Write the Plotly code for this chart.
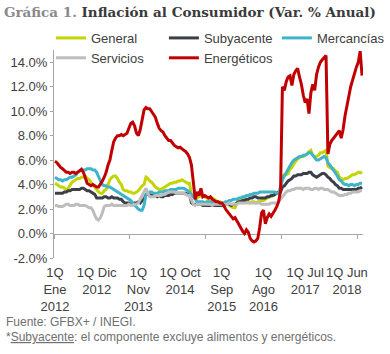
import plotly.graph_objects as go

# ---------------- data ----------------
months = ["Ene", "Feb", "Mar", "Abr", "May", "Jun", "Jul", "Ago", "Sep", "Oct", "Nov", "Dic"]
categories = []
for yr in range(2012, 2019):
    for m in months:
        for q in ("1Q", "2Q"):
            categories.append(f"{q} {m} {yr}")
categories = categories[:163]

general = [
    4.1, 4.0, 3.9, 3.8, 3.8, 3.7, 3.6, 3.7, 3.9, 4.2, 4.3, 4.4, 4.5, 4.5, 4.6, 4.6, 4.7, 4.5, 4.4, 4.2, 4.0, 3.8, 3.6, 3.4,
    3.3, 3.3, 3.5, 3.6, 4.0, 4.4, 4.6, 4.7, 4.7, 4.5, 4.2, 4.0, 3.6, 3.5, 3.5, 3.4, 3.4, 3.3, 3.3, 3.4, 3.5, 3.7, 3.9, 4.0,
    4.6, 4.5, 4.3, 4.2, 4.0, 3.8, 3.7, 3.6, 3.6, 3.7, 3.8, 3.9, 4.0, 4.1, 4.1, 4.2, 4.2, 4.3, 4.3, 4.4, 4.3, 4.2, 4.1, 4.1,
    3.1, 3.0, 3.0, 2.9, 3.0, 3.1, 3.1, 3.0, 2.9, 2.8, 2.9, 2.9, 2.8, 2.7, 2.6, 2.6, 2.5, 2.5, 2.5, 2.4, 2.3, 2.2, 2.1, 2.1,
    2.5, 2.7, 2.8, 2.9, 2.7, 2.6, 2.6, 2.5, 2.6, 2.6, 2.5, 2.6, 2.6, 2.7, 2.7, 2.8, 2.9, 3.0, 3.0, 3.1, 3.2, 3.3, 3.3, 3.4,
    4.7, 4.8, 4.8, 4.9, 5.3, 5.4, 5.7, 5.9, 6.1, 6.2, 6.3, 6.3, 6.4, 6.5, 6.7, 6.8, 6.4, 6.3, 6.3, 6.4, 6.6, 6.6, 6.7, 6.8,
    5.5, 5.4, 5.3, 5.3, 5.1, 5.0, 4.6, 4.5, 4.4, 4.5, 4.5, 4.6, 4.7, 4.8, 4.8, 4.9, 5.0, 5.0, 4.9,
]

subyacente = [
    3.3, 3.3, 3.3, 3.3, 3.3, 3.4, 3.4, 3.5, 3.5, 3.6, 3.6, 3.6, 3.6, 3.6, 3.7, 3.7, 3.6, 3.5, 3.5, 3.4, 3.3, 3.2, 2.9, 2.9,
    2.9, 2.9, 3.0, 3.0, 2.9, 2.9, 3.0, 2.9, 2.9, 2.9, 2.8, 2.8, 2.6, 2.5, 2.5, 2.5, 2.4, 2.4, 2.5, 2.5, 2.6, 2.5, 2.7, 2.8,
    3.2, 3.2, 3.2, 3.1, 3.1, 3.1, 3.0, 3.1, 3.0, 3.0, 3.1, 3.1, 3.1, 3.2, 3.2, 3.3, 3.3, 3.3, 3.3, 3.3, 3.3, 3.3, 3.2, 3.2,
    2.5, 2.4, 2.4, 2.4, 2.4, 2.4, 2.3, 2.3, 2.3, 2.3, 2.3, 2.3, 2.3, 2.3, 2.3, 2.4, 2.3, 2.4, 2.4, 2.5, 2.4, 2.3, 2.4, 2.4,
    2.5, 2.6, 2.6, 2.7, 2.7, 2.8, 2.8, 2.9, 2.9, 3.0, 3.0, 2.9, 2.9, 2.9, 2.9, 2.9, 3.0, 3.0, 3.1, 3.1, 3.2, 3.3, 3.4, 3.4,
    3.8, 3.9, 4.1, 4.3, 4.4, 4.5, 4.7, 4.7, 4.8, 4.8, 4.8, 4.9, 4.9, 4.9, 5.0, 5.0, 4.8, 4.7, 4.6, 4.7, 4.8, 4.9, 4.9, 4.8,
    4.6, 4.5, 4.3, 4.2, 4.0, 3.9, 3.7, 3.7, 3.6, 3.6, 3.6, 3.6, 3.6, 3.6, 3.6, 3.6, 3.7, 3.7, 3.8,
]

mercancias = [
    4.6, 4.5, 4.4, 4.4, 4.3, 4.4, 4.4, 4.5, 4.6, 4.6, 4.7, 4.8, 5.0, 5.1, 5.2, 5.2, 5.2, 5.3, 5.3, 5.3, 5.2, 5.2, 5.0, 4.6,
    4.3, 4.0, 3.9, 3.9, 3.8, 3.8, 3.7, 3.6, 3.5, 3.4, 3.3, 3.2, 3.1, 3.0, 2.9, 2.8, 2.7, 2.5, 2.3, 2.2, 2.0, 1.9, 1.9, 2.3,
    3.2, 3.3, 3.4, 3.4, 3.3, 3.3, 3.3, 3.4, 3.4, 3.4, 3.5, 3.5, 3.5, 3.6, 3.6, 3.6, 3.6, 3.7, 3.7, 3.7, 3.7, 3.6, 3.5, 3.4,
    3.2, 3.0, 2.8, 2.6, 2.6, 2.6, 2.6, 2.5, 2.6, 2.6, 2.6, 2.5, 2.5, 2.5, 2.5, 2.5, 2.4, 2.5, 2.6, 2.6, 2.7, 2.7, 2.8, 2.8,
    2.8, 2.9, 2.9, 3.0, 3.0, 3.1, 3.1, 3.2, 3.2, 3.3, 3.3, 3.3, 3.4, 3.4, 3.4, 3.4, 3.4, 3.4, 3.4, 3.4, 3.4, 3.3, 3.3, 3.8,
    4.4, 4.7, 5.0, 5.3, 5.6, 5.8, 6.0, 6.1, 6.2, 6.3, 6.3, 6.4, 6.4, 6.5, 6.6, 6.6, 6.4, 6.2, 6.0, 6.0, 6.1, 6.2, 6.3, 6.2,
    5.8, 5.6, 5.4, 5.1, 4.9, 4.7, 4.4, 4.3, 4.1, 4.0, 4.0, 3.9, 4.0, 4.0, 3.9, 4.0, 4.0, 4.1, 4.1,
]

servicios = [
    2.3, 2.3, 2.2, 2.2, 2.2, 2.3, 2.4, 2.4, 2.3, 2.3, 2.3, 2.4, 2.4, 2.3, 2.3, 2.3, 2.3, 2.2, 2.1, 2.1, 1.9, 1.5, 1.2, 1.1,
    1.3, 1.7, 2.2, 2.3, 2.3, 2.3, 2.4, 2.3, 2.3, 2.3, 2.3, 2.3, 2.3, 2.3, 2.3, 2.4, 2.3, 2.3, 2.4, 2.4, 2.5, 2.8, 3.1, 3.5,
    3.7, 3.3, 3.0, 3.0, 3.0, 3.1, 3.1, 3.1, 3.1, 3.2, 3.2, 3.3, 3.4, 3.4, 3.4, 3.4, 3.3, 3.3, 3.3, 3.3, 3.3, 3.2, 3.1, 3.1,
    2.7, 2.4, 2.3, 2.4, 2.4, 2.4, 2.4, 2.4, 2.4, 2.4, 2.4, 2.3, 2.4, 2.4, 2.4, 2.4, 2.4, 2.4, 2.4, 2.4, 2.5, 2.4, 2.4, 2.4,
    2.4, 2.5, 2.5, 2.5, 2.5, 2.5, 2.5, 2.5, 2.5, 2.5, 2.5, 2.5, 2.5, 2.4, 2.4, 2.4, 2.4, 2.4, 2.5, 2.5, 2.5, 2.5, 2.6, 2.8,
    3.0, 3.2, 3.4, 3.5, 3.5, 3.6, 3.6, 3.7, 3.7, 3.7, 3.7, 3.6, 3.7, 3.7, 3.7, 3.6, 3.6, 3.7, 3.7, 3.6, 3.7, 3.7, 3.6, 3.6,
    3.6, 3.5, 3.4, 3.4, 3.3, 3.2, 3.1, 3.1, 3.1, 3.2, 3.2, 3.3, 3.3, 3.4, 3.4, 3.4, 3.4, 3.5, 3.5,
]

energeticos = [
    5.9, 5.8, 5.6, 5.4, 5.3, 5.1, 5.0, 5.0, 4.9, 5.0, 5.0, 4.9, 5.0, 5.1, 5.25, 5.0, 4.6, 4.1, 4.0, 3.9, 4.0, 3.9, 3.8, 3.8,
    4.0, 4.3, 4.6, 5.0, 5.6, 6.0, 6.8, 7.5, 7.8, 8.0, 8.0, 8.1, 8.0, 8.1, 8.2, 8.6, 9.0, 9.1, 8.8, 8.2, 8.0, 8.5, 9.3, 10.1,
    10.3, 10.2, 10.2, 10.0, 9.8, 9.5, 9.0, 8.6, 8.4, 8.3, 8.0, 7.8, 7.6, 7.6, 7.4, 7.2, 7.1, 7.0, 7.05, 6.9, 6.8, 6.7, 6.5, 6.2,
    5.6, 4.2, 2.8, 3.4, 3.1, 3.7, 3.0, 3.1, 3.0, 2.9, 3.0, 2.8, 2.7, 2.6, 2.6, 2.5, 2.5, 2.3, 2.0, 1.8, 1.6, 1.3, 1.2, 1.3,
    1.0, 0.7, 0.5, 0.2, 0.0, 0.3, 0.1, -0.4, -0.6, -0.7, -0.6, -0.4, 0.5, 1.7, 1.9, 0.8, 1.3, 1.6, 1.4, 1.6, 1.9, 2.2, 2.6, 3.5,
    12.0, 11.7, 12.4, 12.8, 12.9, 12.1, 13.0, 13.3, 13.5, 12.8, 12.2, 11.3, 10.7, 11.0, 9.8, 11.5, 12.2, 11.7, 13.0, 13.6, 14.0, 14.2, 14.4, 14.55,
    6.5, 7.3, 7.6, 7.8, 8.0, 8.2, 8.4, 7.8, 8.5, 9.6, 10.3, 11.2, 12.0, 12.6, 13.1, 13.6, 14.0, 14.9, 12.9,
]

tick_idx = [0, 22, 44, 66, 88, 110, 132, 154]
tick_labels = ["1Q<br>Ene<br>2012", "1Q Dic<br>2012", "1Q<br>Nov<br>2013", "1Q Oct<br>2014",
               "1Q<br>Sep<br>2015", "1Q<br>Ago<br>2016", "1Q Jul<br>2017", "1Q Jun<br>2018"]
y_ticks = [-2, 0, 2, 4, 6, 8, 10, 12, 14]
y_tick_text = ["-2.0%", "0.0%", "2.0%", "4.0%", "6.0%", "8.0%", "10.0%", "12.0%", "14.0%"]

series = [
    ("General", general, "#c3d400"),
    ("Subyacente", subyacente, "#3b3f47"),
    ("Mercancías", mercancias, "#3fb3c9"),
    ("Servicios", servicios, "#bdbdbd"),
    ("Energéticos", energeticos, "#c00000"),
]

# ---------------- figure ----------------
FONT = "Liberation Sans, Arial, sans-serif"
AXIS_GREY = "#a6a6a6"
TEXT = "#404040"

fig = go.Figure()
for name, vals, col in series:
    fig.add_trace(go.Scatter(x=categories[:len(vals)], y=vals, name=name, mode="lines",
                             line=dict(color=col, width=3)))

# helper (empty) trace so the zero-line axis with category-boundary ticks is drawn
fig.add_trace(go.Scatter(x=[], y=[], xaxis="x2", showlegend=False, hoverinfo="skip"))

ymin, ymax = -2, 15
n = len(categories)
fig.update_layout(
    width=390, height=354,
    margin=dict(l=54, r=27, t=50, b=96, autoexpand=False),
    paper_bgcolor="white", plot_bgcolor="white",
    font=dict(family=FONT, size=13, color=TEXT),
    title=dict(
        text="<b><span style='color:#8a8a8a'>Gráfica 1.</span> Inflación al Consumidor (Var. % Anual)</b>",
        font=dict(family="DejaVu Serif", size=13.5, color="#3a3a3a"),
        xref="container", yref="container", x=0.01, xanchor="left", y=1 - 12 / 354, yanchor="middle",
    ),
    xaxis=dict(
        type="category", range=[-0.5, n - 0.5],
        tickvals=[categories[i] for i in tick_idx], ticktext=tick_labels, tickangle=0,
        showline=False, ticks="", showgrid=False, zeroline=False,
        tickfont=dict(size=13, color=TEXT), ticklabelstandoff=5,
    ),
    xaxis2=dict(
        overlaying="x", anchor="free", position=(0 - ymin) / (ymax - ymin),
        range=[-0.5, n - 0.5], showline=True, linecolor=AXIS_GREY, linewidth=1,
        ticks="outside", ticklen=4, tickcolor=AXIS_GREY,
        tickvals=[-0.5, 39.5, 79.5, 119.5, 159.5], showticklabels=False,
        showgrid=False, zeroline=False, layer="below traces",
    ),
    yaxis=dict(
        range=[ymin, ymax], tickvals=y_ticks, ticktext=y_tick_text,
        showline=True, linecolor=AXIS_GREY, linewidth=1, ticks="outside", ticklen=3,
        tickcolor=AXIS_GREY, showgrid=False, zeroline=False, layer="below traces",
        tickfont=dict(size=13, color=TEXT),
    ),
    legend=dict(
        orientation="h", x=-0.01, xanchor="left", y=1.13, yanchor="top",
        entrywidth=68, entrywidthmode="pixels", itemwidth=30,
        font=dict(family=FONT, size=13, color=TEXT), bgcolor="rgba(0,0,0,0)",
        traceorder="normal", tracegroupgap=0,
    ),
    showlegend=True,
    annotations=[
        dict(text="Fuente: GFBX+ / INEGI.", xref="paper", yref="paper",
             x=-50 / 309, y=(258 - 322) / 208, xanchor="left", yanchor="middle",
             showarrow=False, font=dict(family=FONT, size=12, color="#6f6f6f")),
        dict(text="*<u>Subyacente</u>: el componente excluye alimentos y energéticos.",
             xref="paper", yref="paper",
             x=-50 / 309, y=(258 - 337) / 208, xanchor="left", yanchor="middle",
             showarrow=False, font=dict(family=FONT, size=12, color="#6f6f6f")),
    ],
)

fig.write_html("out.html")
